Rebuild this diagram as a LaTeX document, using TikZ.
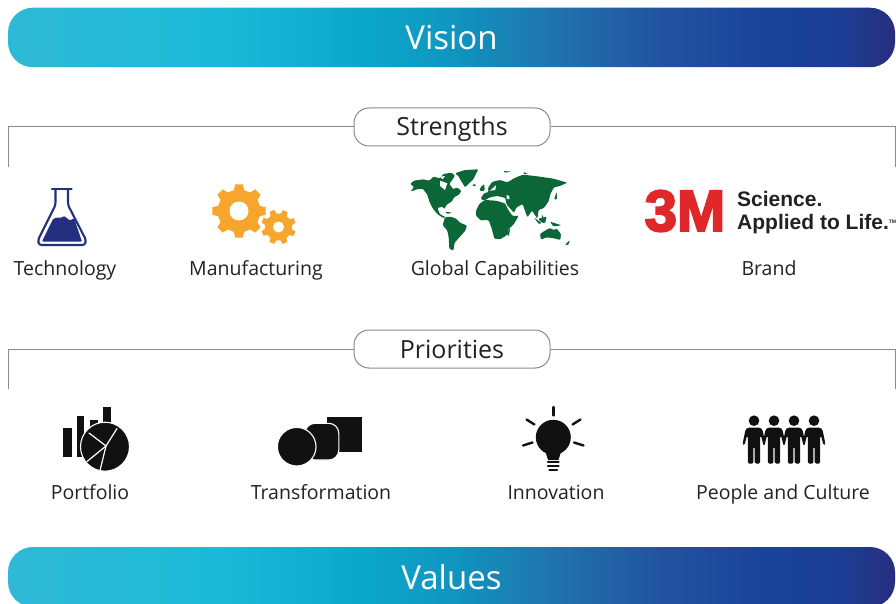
\documentclass[tikz,border=0pt]{standalone}
\usepackage{fontspec}
\setmainfont{Open Sans}
\newfontfamily\logofont[FakeBold=3.5]{Liberation Sans Bold}
\newfontfamily\tagfont{Liberation Sans}
\definecolor{txt}{HTML}{222222}
\definecolor{rulec}{HTML}{8A8A8A}
\definecolor{navy}{HTML}{24307F}
\definecolor{gearc}{HTML}{F6A52D}
\definecolor{mapc}{HTML}{0B6638}
\definecolor{logored}{HTML}{E0282A}
\definecolor{iconc}{HTML}{111111}
\definecolor{ga}{HTML}{2FB9D6}
\definecolor{gb}{HTML}{1BBAD8}
\definecolor{gc}{HTML}{0BA7CB}
\definecolor{gd}{HTML}{0F96C0}
\definecolor{ge}{HTML}{2172AC}
\definecolor{gf}{HTML}{22529F}
\definecolor{gg}{HTML}{19439A}
\definecolor{gh}{HTML}{1C3D93}
\definecolor{gi}{HTML}{272E7E}
\pgfdeclarehorizontalshading{barshade}{100bp}{
 color(0bp)=(ga);
 color(25bp)=(ga);
 color(37bp)=(gb);
 color(45bp)=(gc);
 color(50bp)=(gd);
 color(56bp)=(ge);
 color(62bp)=(gf);
 color(68bp)=(gg);
 color(72bp)=(gh);
 color(75bp)=(gi);
 color(100bp)=(gi)}
\tikzset{
 bar/.style={shading=barshade,rounded corners=25pt,minimum width=887pt,minimum height=#1,inner sep=0pt,text=white,font=\fontsize{33}{36}\selectfont},
 bar/.default=60pt,
 pill/.style={draw=rulec,line width=1pt,fill=white,rounded corners=15pt,minimum width=196pt,minimum height=38pt,inner sep=0pt,text=txt,text height=20pt,text depth=2pt,font=\fontsize{25}{28}\selectfont},
 lbl/.style={inner sep=0pt,anchor=base,text=txt,font=\fontsize{19.5}{22}\selectfont},
 railc/.style={draw=rulec,line width=1pt},
 gap/.style={draw=white,line width=1.2pt,line cap=round},
 ray/.style={draw=iconc,line width=2.4pt,line cap=round},
 halo/.style={fill=iconc,draw=white,line width=1.1pt},
 land/.style={fill=mapc,rounded corners=1pt},
 pics/person/.style={code={
  \fill[iconc] (0,0) circle (5.3pt);
  \fill[iconc,rounded corners=1.5pt] (-6.5,7) -- (6.5,7) -- (8.5,9) -- (11.5,23.5) -- (9.5,24.5) -- (7,15) -- (6.2,15) -- (6.2,43) -- (0.7,43) -- (0.7,26) -- (-0.7,26) -- (-0.7,43) -- (-6.2,43) -- (-6.2,15) -- (-7,15) -- (-9.5,24.5) -- (-11.5,23.5) -- (-8.5,9) -- cycle;
 }}
}
\newcommand{\geardraw}[6]{% x,y,R,r,hole,offset
 \begin{scope}[shift={(#1,#2)}]
 \fill[gearc] (#6-14:#4pt)
  \foreach \a in {0,45,...,315}{ -- (#6+\a-14:#4pt) -- (#6+\a-8:#3pt) -- (#6+\a+8:#3pt) -- (#6+\a+14:#4pt)} -- cycle;
 \fill[white] (0,0) circle (#5pt);
 \end{scope}}
\begin{document}
\begin{tikzpicture}[x=1pt,y=-1pt]
\useasboundingbox (0,0) rectangle (896,604);
\clip (0,0) rectangle (896,604);
\fill[white] (0,0) rectangle (896,604);
% bars
\node[bar=59.5pt] (vision) at (451.5,37.5) {Vision};
\node[bar=60pt] (values) at (451.5,577) {Values};
% rails
\coordinate (sl) at (8,167);
\coordinate (sr) at (895,167);
\coordinate (pl) at (8,389);
\coordinate (pr) at (895,389);
\node[pill] (strengths) at (452,127) {Strengths};
\node[pill] (priorities) at (452,349) {Priorities};
\draw[railc] (sl) |- (strengths.west);
\draw[railc] (sr) |- (strengths.east);
\draw[railc] (pl) |- (priorities.west);
\draw[railc] (pr) |- (priorities.east);
% labels
\node[lbl] (technology) at (65,275) {Technology};
\node[lbl] (manufacturing) at (256,275) {Manufacturing};
\node[lbl] (global) at (495,275) {Global Capabilities};
\node[lbl] (brand) at (769,275) {Brand};
\node[lbl] (portfolio) at (90,499) {Portfolio};
\node[lbl] (transformation) at (321,499) {Transformation};
\node[lbl] (innovation) at (556,499) {Innovation};
\node[lbl] (people) at (783,499) {People and Culture};
% flask
\draw[navy,line width=2.1pt,fill=white,line join=round,rounded corners=2.5pt] (55.5,190) -- (55.5,205) -- (38,240) -- (39,245) -- (85,245) -- (86,240) -- (68,205) -- (68,190);
\draw[navy,line width=2.6pt,line cap=round] (52,189) -- (71.5,189);
\fill[navy,rounded corners=1pt] (42,241.5) -- (52.5,220) .. controls (56,216) and (60,219) .. (63,216.5) .. controls (66,216) and (68,221) .. (72,219.5) -- (74,218) -- (82,241.5) -- cycle;
% gears
\geardraw{239}{211}{27}{21.5}{9.5}{0}
\geardraw{278.5}{227}{17.5}{13.5}{5.5}{22}
% world map
\begin{scope}[shift={(390,160)},x=0.3333pt,y=-0.3333pt]
% North America
\path[land] (60,72) -- (72,62) -- (100,58) -- (118,62) -- (130,50) -- (150,55) -- (160,42) -- (185,38) -- (195,48) -- (185,62) -- (178,72) -- (190,88) -- (200,82) -- (214,92) -- (207,104) -- (192,112) -- (186,124) -- (170,134) -- (163,148) -- (158,140) -- (142,144) -- (150,163) -- (168,172) -- (160,174) -- (142,162) -- (128,145) -- (118,125) -- (112,104) -- (98,86) -- (80,88) -- (62,95) -- (72,80) -- cycle;
% Greenland
\path[land] (195,40) -- (225,30) -- (265,28) -- (250,58) -- (235,72) -- (225,82) -- (213,62) -- (205,48) -- cycle;
% South America
\path[land] (165,172) -- (180,170) -- (197,175) -- (210,188) -- (231,197) -- (226,212) -- (208,232) -- (194,248) -- (190,272) -- (178,266) -- (176,232) -- (172,212) -- (158,195) -- cycle;
% Africa and Europe-Asia
\path[land] (258,152) -- (268,132) -- (284,120) -- (318,122) -- (345,130) -- (356,152) -- (368,168) -- (386,167) -- (372,192) -- (356,208) -- (350,226) -- (330,238) -- (313,236) -- (305,205) -- (296,180) -- (272,181) -- (258,167) -- cycle;
\path[land] (272,116) -- (282,100) -- (296,96) -- (294,84) -- (306,66) -- (330,60) -- (352,67) -- (378,52) -- (400,44) -- (450,50) -- (490,56) -- (532,68) -- (510,78) -- (492,82) -- (482,100) -- (476,124) -- (462,144) -- (446,150) -- (442,176) -- (426,152) -- (412,172) -- (398,132) -- (380,142) -- (372,158) -- (350,134) -- (346,114) -- (322,108) -- (300,112) -- (282,122) -- cycle;
% Australia and islands
\path[land] (450,222) -- (465,212) -- (480,204) -- (490,210) -- (500,206) -- (513,222) -- (511,240) -- (492,235) -- (470,232) -- (453,239) -- cycle;
\path[land] (432,172) -- (455,190) -- (446,192) -- cycle;
\path[land] (445,176) -- (470,170) -- (465,190) -- (452,186) -- cycle;
\path[land] (480,185) -- (515,196) -- (490,199) -- cycle;
\path[land] (350,220) -- (361,204) -- (356,230) -- cycle;
\path[land] (525,255) -- (540,240) -- (535,255) -- cycle;
\path[land] (492,118) -- (501,95) -- (501,118) -- cycle;
\path[land] (271,82) -- (283,72) -- (284,92) -- (270,94) -- cycle;
\path[land] (245,75) -- (258,72) -- (255,80) -- cycle;
\path[land] (340,33) -- (365,35) -- (345,38) -- cycle;
\path[land] (400,36) -- (415,42) -- (400,42) -- cycle;
\path[land] (165,155) -- (186,158) -- (172,162) -- cycle;
\path[land] (455,162) -- (462,175) -- (456,175) -- cycle;
% bays and inland seas
\fill[white] (150,62) -- (172,70) -- (165,90) -- (150,78) -- cycle;
\fill[white] (295,118) -- (330,114) -- (340,124) -- (310,120) -- cycle;
\fill[white] (150,50) -- (165,48) -- (158,58) -- cycle;
\fill[white] (350,105) -- (358,108) -- (358,118) -- (350,116) -- cycle;
\fill[white] (300,92) -- (318,76) -- (316,90) -- cycle;
\fill[white] (350,136) -- (372,162) -- (366,164) -- cycle;
\end{scope}
% 3M logo
\node[inner sep=0pt,text=logored,font=\logofont\fontsize{58}{58}\selectfont] (logo) at (685,211) {3M};
\node[inner sep=0pt,anchor=west,text=txt,font=\tagfont\bfseries\fontsize{21}{24}\selectfont] (science) at (737,199) {Science.};
\node[inner sep=0pt,anchor=west,text=txt,font=\tagfont\bfseries\fontsize{21}{24}\selectfont] (applied) at (737,224) {Applied to Life.\raisebox{6pt}{\fontsize{5}{5}\selectfont TM}};
% portfolio
\fill[iconc] (63.3,427.7) rectangle (71.7,456.7);
\fill[iconc] (76.7,416) rectangle (84.3,456.7);
\fill[iconc] (90,420) rectangle (98.3,430);
\fill[iconc] (103.3,407.3) rectangle (111,425);
\filldraw[halo] (105,446.7) circle (24.5pt);
\coordinate (pc) at (106,446);
\draw[gap] (117,428.5) -- (pc) -- (100,470.5);
\draw[gap] (89,433) -- (pc);
\draw[gap] (87,461.5) -- (pc);
% transformation
\fill[iconc] (326.7,416.7) rectangle (361.7,451.7);
\filldraw[halo,rounded corners=10pt] (305,423.3) rectangle (338.8,460);
\filldraw[halo] (296.7,446.7) circle (19.3pt);
% innovation
\fill[iconc] (553.3,437.3) circle (17.5pt);
\fill[iconc] (544,447) -- (562.5,447) -- (558.5,460) -- (548,460) -- cycle;
\draw[iconc,line width=2.6pt,line cap=round] (548,462) -- (558.5,462);
\draw[iconc,line width=2.6pt,line cap=round] (548,466) -- (558.5,466);
\draw[iconc,line width=2.6pt,line cap=round] (549.5,470) -- (557,470);
\draw[ray] (553.3,407) -- (553.3,415.5);
\draw[ray] (526.5,419.5) -- (534.5,424.5);
\draw[ray] (580.5,419.5) -- (572.5,424.5);
\draw[ray] (523,445.5) -- (532.5,442.5);
\draw[ray] (583.5,445.5) -- (574,442.5);
% people
\pic at (754,420.7) {person};
\pic at (774,420.7) {person};
\pic at (794,420.7) {person};
\pic at (814,420.7) {person};
\end{tikzpicture}
\end{document}
